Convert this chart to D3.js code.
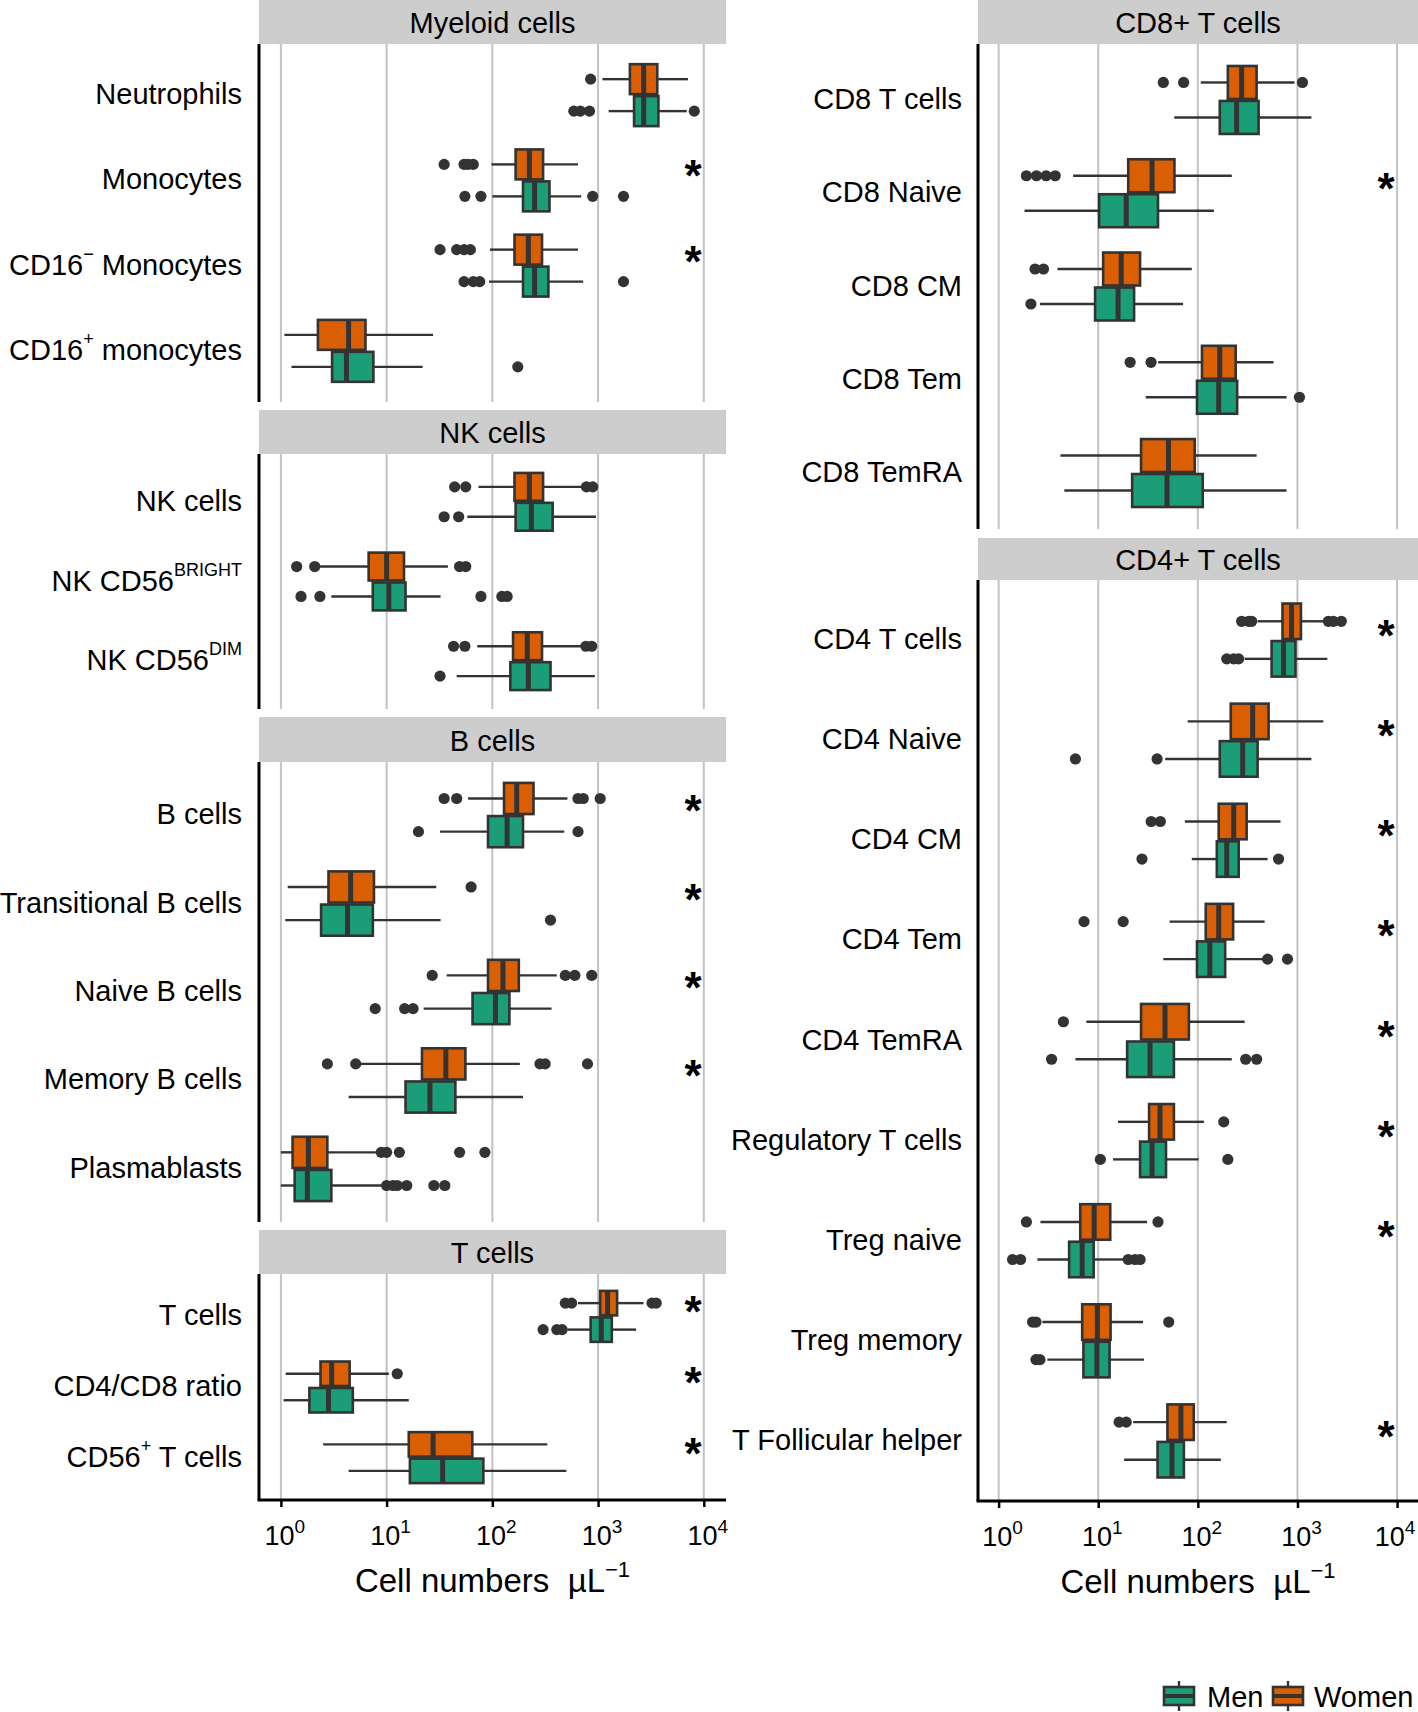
<!DOCTYPE html>
<html><head><meta charset="utf-8">
<script src="https://cdn.jsdelivr.net/npm/d3@7"></script>
<style>
body{margin:0;background:#fff}
svg{display:block}
text{font-family:"Liberation Sans",Arial,Helvetica,sans-serif;fill:#000}
</style>
</head><body>
<svg id="chart" width="1418" height="1712"></svg>
<script>
// ---------------- DATA (cell numbers per µL; stats = [lower whisker, Q1, median, Q3, upper whisker]) ----------------
const seriesNames = ["Men", "Women"];
const tickValues = [1, 10, 100, 1000, 10000];
const tickExponents = ["0", "1", "2", "3", "4"];

const myeloidCategories = ["Neutrophils", "Monocytes", "CD16^{−} Monocytes", "CD16^{+} monocytes"];
const myeloidWomen = [[1100,2000,2700,3630,7080],[98,166,224,302,646],[95,162,219,295,646],[1.08,2.24,4.37,6.31,27.5]];
const myeloidWomenOut = [[850],[35,54,59,66],[32,46,54,62],[]];
const myeloidMen = [[1260,2190,2700,3720,6900],[100,195,251,347,692],[93,195,251,339,724],[1.26,3.05,4.17,7.5,21.9]];
const myeloidMenOut = [[590,680,830,8130],[55,78,890,1740],[54,66,76,1740],[174]];
const myeloidSig = [false, true, true, false];

const nkCategories = ["NK cells", "NK CD56^{BRIGHT}", "NK CD56^{DIM}"];
const nkWomen = [[74,162,224,302,724],[2.34,6.76,10,14.6,38],[72,157,214,295,708]];
const nkWomenOut = [[44,56,776,890],[1.41,2.09,49,56],[43,55,767,871]];
const nkMen = [[58,166,234,372,955],[3.0,7.4,10.5,15.1,32.4],[46,148,219,355,933]];
const nkMenOut = [[35,48],[1.55,2.34,78,123,138],[32]];
const nkSig = [false, false, false];

const bCategories = ["B cells", "Transitional B cells", "Naive B cells", "Memory B cells", "Plasmablasts"];
const bWomen = [[59,129,170,245,513],[1.16,2.82,4.57,7.59,29.5],[37,91,126,178,407],[5.6,21.6,36.3,55.6,182],[1.0,1.29,1.82,2.75,8.3]];
const bWomenOut = [[35,46,646,724,1047],[63],[27,490,603,871],[2.75,5.1,282,316,794],[8.9,10,13.2,49,85]];
const bMen = [[32,91,138,195,479],[1.10,2.40,4.27,7.41,32.4],[22.4,65,107,145,363],[4.37,15.1,25.7,44.7,195],[1.0,1.35,1.78,3.0,9.3]];
const bMenOut = [[20,646],[355],[7.8,14.8,17.8],[],[10,11.5,12.6,15.5,28,35.5]];
const bSig = [true, true, true, true, false];

const tCategories = ["T cells", "CD4/CD8 ratio", "CD56^{+} T cells"];
const tWomen = [[646,1047,1230,1514,2692],[1.11,2.37,3.02,4.47,10.5],[2.51,16.2,27.5,64.6,331]];
const tWomenOut = [[490,562,3236,3548],[12.6],[]];
const tMen = [[513,851,1072,1349,2291],[1.06,1.86,2.82,4.79,16.2],[4.37,16.6,33.9,82.2,501]];
const tMenOut = [[302,407,457],[],[]];
const tSig = [true, true, true];

const cd8Categories = ["CD8 T cells", "CD8 Naive", "CD8 CM", "CD8 Tem", "CD8 TemRA"];
const cd8Women = [[107,200,275,389,933],[5.6,20,34.7,58.2,219],[3.9,11.2,17,26.3,87],[40,110,166,240,575],[4.17,26.9,50.7,93,389]];
const cd8WomenOut = [[45,72,1122],[1.9,2.4,3.0,3.7],[2.32,2.82],[20.9,33.9],[]];
const cd8Men = [[58,166,245,407,1380],[1.82,10.2,19.1,39.8,145],[2.6,9.3,15.8,22.9,71],[30,98,162,248,776],[4.57,21.9,49,112,776]];
const cd8MenOut = [[],[],[2.11],[1047],[]];
const cd8Sig = [false, true, false, false, false];

const cd4Categories = ["CD4 T cells", "CD4 Naive", "CD4 CM", "CD4 Tem", "CD4 TemRA", "Regulatory T cells", "Treg naive", "Treg memory", "T Follicular helper"];
const cd4Women = [[398,708,871,1084,1820],[79,214,355,513,1820],[74,162,229,309,676],[52,120,162,226,468],[7.6,26.9,46.8,81.3,295],[15.8,32.4,41.7,57.5,115],[2.63,6.6,9.1,13.2,30.9],[2.75,6.9,9.8,13.3,28.2],[22.4,49.5,67.6,91,195]];
const cd4WomenOut = [[275,324,347,2042,2291,2754],[],[34,42],[7.2,17.8],[4.47],[182],[1.9,39.8],[2.19,2.37,51],[16.2,19.1]];
const cd4Men = [[295,550,724,955,1995],[47,166,282,398,1380],[87,155,195,257,501],[45,98,132,188,457],[5.9,19.5,33.1,57.5,219],[14.1,26.3,34.7,47.9,102],[2.45,5.1,6.9,9.0,17.8],[3.09,7.1,9.7,13.0,28.8],[18.2,39.4,55,72.4,170]];
const cd4MenOut = [[195,229,257],[5.9,39],[27.5,646],[501,794],[3.4,302,389],[10.5,200],[1.38,1.66,20,23.4,26.3],[2.37,2.6],[]];
const cd4Sig = [true, true, true, true, true, true, true, false, true];

// ---------------- LAYOUT ----------------
const colors = { Women: "#D95F02", Men: "#1B9E77" };
const ink = "#333333";
const columns = [
  { x0: 259, x1: 726, axisY: 1500, labelRight: 242, starX: 693 },
  { x0: 978, x1: 1418, axisY: 1501, labelRight: 962, starX: 1386 }
];
const panels = [
  { title: "Myeloid cells", col: 0, stripTop: 0, top: 44, bottom: 402, cats: myeloidCategories, women: myeloidWomen, womenOut: myeloidWomenOut, men: myeloidMen, menOut: myeloidMenOut, sig: myeloidSig },
  { title: "NK cells", col: 0, stripTop: 410, top: 454, bottom: 709, cats: nkCategories, women: nkWomen, womenOut: nkWomenOut, men: nkMen, menOut: nkMenOut, sig: nkSig },
  { title: "B cells", col: 0, stripTop: 717, top: 762, bottom: 1222, cats: bCategories, women: bWomen, womenOut: bWomenOut, men: bMen, menOut: bMenOut, sig: bSig },
  { title: "T cells", col: 0, stripTop: 1230, top: 1274, bottom: 1500, cats: tCategories, women: tWomen, womenOut: tWomenOut, men: tMen, menOut: tMenOut, sig: tSig },
  { title: "CD8+ T cells", col: 1, stripTop: 0, top: 44, bottom: 529, cats: cd8Categories, women: cd8Women, womenOut: cd8WomenOut, men: cd8Men, menOut: cd8MenOut, sig: cd8Sig },
  { title: "CD4+ T cells", col: 1, stripTop: 538, top: 580, bottom: 1501, cats: cd4Categories, women: cd4Women, womenOut: cd4WomenOut, men: cd4Men, menOut: cd4MenOut, sig: cd4Sig }
];

const svg = d3.select("#chart");
const logDomain = [Math.pow(10, -0.207), Math.pow(10, 4.21)];
const xScales = columns.map(c => d3.scaleLog().domain(logDomain).range([c.x0, c.x1]));

function richText(sel, str, supSize, supShift) {
  const parts = str.split(/(\^\{[^}]*\})/);
  let raised = false;
  parts.forEach(p => {
    if (!p) return;
    const m = p.match(/^\^\{([^}]*)\}$/);
    if (m) {
      sel.append("tspan").attr("font-size", supSize).attr("dy", -supShift).text(m[1]);
      raised = true;
    } else {
      const t = sel.append("tspan").text(p);
      if (raised) { t.attr("dy", supShift); raised = false; }
    }
  });
}

panels.forEach(p => {
  const col = columns[p.col];
  const x = xScales[p.col];
  const g = svg.append("g");
  // strip
  g.append("rect").attr("x", col.x0).attr("y", p.stripTop).attr("width", col.x1 - col.x0)
    .attr("height", p.top - p.stripTop).attr("fill", "#cdcdcd");
  g.append("text").attr("x", (col.x0 + col.x1) / 2).attr("y", (p.stripTop + p.top) / 2 + 1)
    .attr("text-anchor", "middle").attr("dominant-baseline", "central").attr("font-size", 29).text(p.title);
  // grid
  g.selectAll("line.grid").data(tickValues).enter().append("line")
    .attr("x1", d => x(d)).attr("x2", d => x(d)).attr("y1", p.top).attr("y2", p.bottom)
    .attr("stroke", "#c2c2c2").attr("stroke-width", 2);
  // y scale
  const y = d3.scalePoint().domain(p.cats).range([p.top, p.bottom]).padding(0.6);
  const step = y.step();
  const off = step * 0.1875;
  const half = step * 0.1875;
  // left axis line
  g.append("line").attr("x1", col.x0).attr("x2", col.x0).attr("y1", p.top).attr("y2", p.bottom)
    .attr("stroke", "#000").attr("stroke-width", 3);
  // labels
  p.cats.forEach((c, i) => {
    const t = g.append("text").attr("x", col.labelRight).attr("y", y(c) - 1)
      .attr("text-anchor", "end").attr("dominant-baseline", "central").attr("font-size", 29);
    richText(t, c, 18, 11);
    if (p.sig[i]) {
      g.append("text").attr("x", col.starX).attr("y", y(c) + 11).attr("text-anchor", "middle")
        .attr("font-size", 44).attr("font-weight", "bold").text("*");
    }
  });
  // boxes
  const groups = [
    { name: "Women", stats: p.women, outs: p.womenOut, dy: -off },
    { name: "Men", stats: p.men, outs: p.menOut, dy: off }
  ];
  groups.forEach(gr => {
    p.cats.forEach((c, i) => {
      const s = gr.stats[i];
      const cy = y(c) + gr.dy;
      const bg = g.append("g");
      bg.append("line").attr("x1", x(s[0])).attr("x2", x(s[1])).attr("y1", cy).attr("y2", cy)
        .attr("stroke", ink).attr("stroke-width", 2.4);
      bg.append("line").attr("x1", x(s[3])).attr("x2", x(s[4])).attr("y1", cy).attr("y2", cy)
        .attr("stroke", ink).attr("stroke-width", 2.4);
      bg.append("rect").attr("x", x(s[1])).attr("y", cy - half + 1).attr("width", x(s[3]) - x(s[1]))
        .attr("height", 2 * half - 2).attr("fill", colors[gr.name]).attr("stroke", ink).attr("stroke-width", 2.6);
      bg.append("line").attr("x1", x(s[2])).attr("x2", x(s[2])).attr("y1", cy - half + 1).attr("y2", cy + half - 1)
        .attr("stroke", ink).attr("stroke-width", 5);
      bg.selectAll("circle").data(gr.outs[i]).enter().append("circle")
        .attr("cx", d => x(d)).attr("cy", cy).attr("r", 5.6).attr("fill", ink);
    });
  });
});

// bottom axes
columns.forEach((col, ci) => {
  const x = xScales[ci];
  const axis = d3.axisBottom(x).tickValues(tickValues).tickSize(7).tickFormat("");
  const ag = svg.append("g").attr("transform", `translate(0,${col.axisY})`).call(axis);
  ag.select(".domain").attr("stroke", "#000").attr("stroke-width", 3)
    .attr("d", `M${col.x0 - 1.5},0H${col.x1}`);
  ag.selectAll(".tick line").attr("stroke", "#000").attr("stroke-width", 2.5);
  tickValues.forEach((v, i) => {
    const cx = Math.min(x(v) + 4, 1395);
    const t = svg.append("text").attr("x", cx).attr("y", col.axisY + 45)
      .attr("text-anchor", "middle").attr("font-size", 27);
    t.append("tspan").text("10");
    t.append("tspan").attr("font-size", 19).attr("dy", -12).text(tickExponents[i]);
  });
  const title = svg.append("text").attr("x", (col.x0 + col.x1) / 2).attr("y", col.axisY + 92)
    .attr("text-anchor", "middle").attr("font-size", 33);
  title.append("tspan").text("Cell numbers\u00a0\u00a0µL");
  title.append("tspan").attr("font-size", 22).attr("dy", -15).text("−1");
});

// legend
const legendItems = [
  { name: "Men", keyX: 1164, textX: 1207 },
  { name: "Women", keyX: 1273, textX: 1314 }
];
const ly = 1696;
legendItems.forEach(it => {
  const g = svg.append("g");
  g.append("line").attr("x1", it.keyX + 15).attr("x2", it.keyX + 15).attr("y1", ly - 15).attr("y2", ly + 15)
    .attr("stroke", ink).attr("stroke-width", 2.4);
  g.append("rect").attr("x", it.keyX).attr("y", ly - 9).attr("width", 30).attr("height", 18)
    .attr("fill", colors[it.name]).attr("stroke", ink).attr("stroke-width", 2.6);
  g.append("line").attr("x1", it.keyX).attr("x2", it.keyX + 30).attr("y1", ly).attr("y2", ly)
    .attr("stroke", ink).attr("stroke-width", 4);
  g.append("text").attr("x", it.textX).attr("y", ly + 1).attr("dominant-baseline", "central")
    .attr("font-size", 29).text(it.name);
});
</script>
</body></html>
